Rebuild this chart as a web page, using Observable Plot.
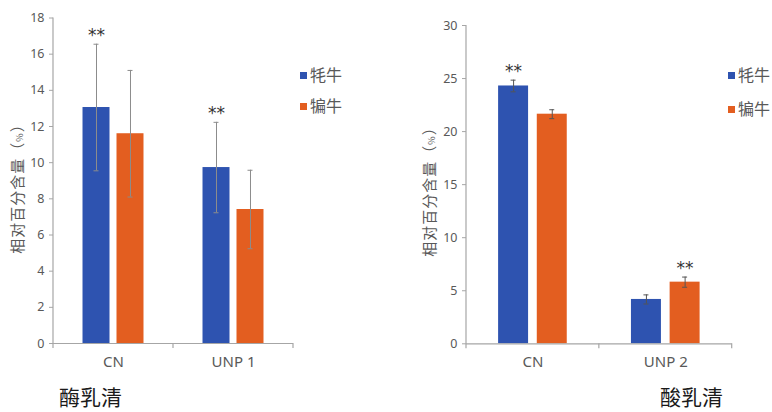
<!DOCTYPE html>
<html><head><meta charset="utf-8">
<script src="https://cdn.jsdelivr.net/npm/d3@7"></script>
<script src="https://cdn.jsdelivr.net/npm/@observablehq/plot@0.6"></script>
<style>
body{margin:0;background:#fff;font-family:"Noto Sans","Noto Sans CJK SC",sans-serif;}
#wrap{position:relative;width:772px;height:412px;overflow:hidden;background:#fff;}
.panel{position:absolute;top:0;}
.ylab{position:absolute;width:160px;height:18px;line-height:18px;text-align:center;font-family:"Noto Sans CJK SC",sans-serif;font-size:15px;letter-spacing:1px;color:#595959;transform:rotate(-90deg);white-space:nowrap;}
.ylab small{font-size:9px;}
.leg{position:absolute;font-family:"Noto Sans CJK SC",sans-serif;font-size:16px;color:#595959;white-space:nowrap;line-height:20px;}
.leg i{display:inline-block;width:7px;height:7px;margin-right:3px;vertical-align:middle;position:relative;top:-1px;}
.cap{position:absolute;font-family:"Noto Sans CJK SC",serif;font-size:21px;color:#1a1a1a;line-height:21px;height:21px;white-space:nowrap;}
</style></head><body><div id="wrap"></div>
<script>
const series = ["牦牛", "犏牛"];
const colors = ["#2E53B0", "#E35E20"];

const leftCats = ["CN", "UNP 1"];
const leftYak = [13.05, 9.73];
const leftPian = [11.6, 7.41];
const leftYakErr = [3.5, 2.5];
const leftPianErr = [3.5, 2.17];
const leftYakStar = [true, true];
const leftPianStar = [false, false];
const leftTicks = [0, 2, 4, 6, 8, 10, 12, 14, 16, 18];

const rightCats = ["CN", "UNP 2"];
const rightYak = [24.3, 4.18];
const rightPian = [21.64, 5.81];
const rightYakErr = [0.55, 0.43];
const rightPianErr = [0.42, 0.48];
const rightYakStar = [true, false];
const rightPianStar = [false, true];
const rightTicks = [0, 5, 10, 15, 20, 25, 30];

const yLabel = "相对百分含量";
const leftCaption = "酶乳清";
const rightCaption = "酸乳清";

function buildRows(cats, yak, pian, yakErr, pianErr, yakStar, pianStar) {
  const rows = [];
  cats.forEach((c, i) => {
    rows.push({cat: c, series: series[0], value: yak[i], err: yakErr[i], star: yakStar[i]});
    rows.push({cat: c, series: series[1], value: pian[i], err: pianErr[i], star: pianStar[i]});
  });
  return rows;
}

function panel(o) {
  const rows = o.rows;
  const plot = Plot.plot({
    width: o.width, height: o.height,
    marginLeft: o.marginLeft, marginRight: o.marginRight,
    marginTop: o.marginTop, marginBottom: o.marginBottom,
    style: {fontFamily: "'Noto Sans', 'Noto Sans CJK SC', sans-serif", fontSize: "12px", color: "#595959", background: "transparent", overflow: "visible"},
    fx: {domain: o.cats, padding: 0, round: false, label: null},
    x: {domain: series, paddingInner: o.padIn, paddingOuter: o.padOut, round: false, axis: null},
    y: {domain: o.yDomain, label: null},
    color: {domain: series, range: colors},
    marks: [
      Plot.barY(rows, {fx: "cat", x: "series", y: "value", fill: "series"}),
      Plot.ruleX(rows, {fx: "cat", x: "series", y1: d => d.value - d.err, y2: d => d.value + d.err, stroke: o.errColor, strokeWidth: 1}),
      Plot.tickY(rows, {fx: "cat", x: "series", y: d => d.value - d.err, insetLeft: o.capInset, insetRight: o.capInset, stroke: o.errColor, strokeWidth: 1}),
      Plot.tickY(rows, {fx: "cat", x: "series", y: d => d.value + d.err, insetLeft: o.capInset, insetRight: o.capInset, stroke: o.errColor, strokeWidth: 1}),
      Plot.text(rows.filter(d => d.star), {fx: "cat", x: "series", y: d => d.value + d.err, text: () => "**", lineAnchor: "bottom", dy: -3, fontSize: 17, fontFamily: "DejaVu Sans", fill: "#333"}),
      Plot.ruleY([0], {stroke: "#a6a6a6", strokeWidth: 1.2}),
      Plot.axisY({ticks: o.yTicks, tickSize: 4, tickPadding: 5, stroke: "#a6a6a6", fill: "#595959", fontSize: 12.5, label: null}),
      Plot.axisFx({anchor: "bottom", tickSize: 0, tickPadding: 13, fontSize: 15, fill: "#595959", label: null})
    ]
  });
  // y axis line and category boundary ticks from the library's scales
  const fx = plot.scale("fx");
  const y = plot.scale("y");
  const svg = d3.select(plot);
  const y0 = y.apply(0);
  const yTop = y.apply(o.yDomain[1]);
  const x0 = fx.range[0];
  const step = (fx.range[1] - fx.range[0]) / o.cats.length;
  svg.append("line").attr("x1", x0).attr("x2", x0).attr("y1", yTop).attr("y2", y0 + 5)
    .attr("stroke", "#a6a6a6").attr("stroke-width", 1.2);
  for (let i = 1; i <= o.cats.length; i++) {
    const xb = x0 + i * step;
    svg.append("line").attr("x1", xb).attr("x2", xb).attr("y1", y0).attr("y2", y0 + 5)
      .attr("stroke", "#a6a6a6").attr("stroke-width", 1.2);
  }
  return plot;
}

const wrap = document.getElementById("wrap");

function addPanel(left, plot) {
  const d = document.createElement("div");
  d.className = "panel";
  d.style.left = left + "px";
  d.appendChild(plot);
  wrap.appendChild(d);
}

addPanel(0, panel({
  rows: buildRows(leftCats, leftYak, leftPian, leftYakErr, leftPianErr, leftYakStar, leftPianStar),
  cats: leftCats, yDomain: [0, 18], yTicks: leftTicks,
  width: 300, height: 372, marginLeft: 53, marginRight: 7, marginTop: 17.5, marginBottom: 29,
  padIn: 0.206, padOut: 0.868, capInset: 11, errColor: "#8c8c8c"
}));

addPanel(390, panel({
  rows: buildRows(rightCats, rightYak, rightPian, rightYakErr, rightPianErr, rightYakStar, rightPianStar),
  cats: rightCats, yDomain: [0, 30], yTicks: rightTicks,
  width: 345, height: 372, marginLeft: 76, marginRight: 3.3, marginTop: 25, marginBottom: 28.7,
  padIn: 0.225, padOut: 0.83, capInset: 12.5, errColor: "#555"
}));

function addHTML(cls, html, left, top) {
  const d = document.createElement("div");
  d.className = cls;
  d.innerHTML = html;
  d.style.left = left + "px";
  d.style.top = top + "px";
  wrap.appendChild(d);
  return d;
}

// rotated y labels (centered at given points)
addHTML("ylab", yLabel + "（<small>%</small>）", 17 - 80, 185 - 9);
addHTML("ylab", yLabel + "（<small>%</small>）", 429 - 80, 188 - 9);

// legends
function legend(left, top, gap) {
  series.forEach((s, i) => {
    addHTML("leg", `<i style="background:${colors[i]}"></i>${s}`, left, top + i * gap);
  });
}
legend(300, 64, 30.5);
legend(728, 63.5, 34.5);

// captions
addHTML("cap", leftCaption, 59, 386);
addHTML("cap", rightCaption, 660, 386);
</script></body></html>
